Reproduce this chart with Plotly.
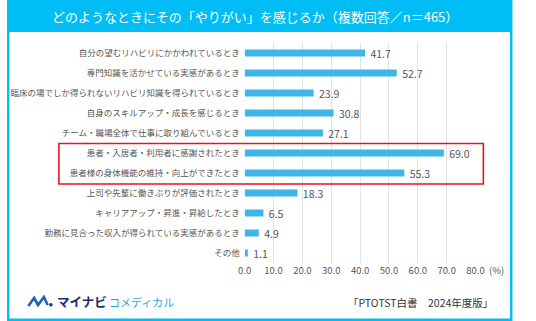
import plotly.graph_objects as go

W, H = 536, 321

categories = [
    "自分の望むリハビリにかかわれているとき",
    "専門知識を活かせている実感があるとき",
    "臨床の場でしか得られないリハビリ知識を得られているとき",
    "自身のスキルアップ・成長を感じるとき",
    "チーム・職場全体で仕事に取り組んでいるとき",
    "患者・入居者・利用者に感謝されたとき",
    "患者様の身体機能の維持・向上ができたとき",
    "上司や先輩に働きぶりが評価されたとき",
    "キャリアアップ・昇進・昇給したとき",
    "勤務に見合った収入が得られている実感があるとき",
    "その他",
]
values = [41.7, 52.7, 23.9, 30.8, 27.1, 69.0, 55.3, 18.3, 6.5, 4.9, 1.1]
tick_vals = [0, 10, 20, 30, 40, 50, 60, 70, 80]
tick_text = ["0.0", "10.0", "20.0", "30.0", "40.0", "50.0", "60.0", "70.0", "80.0"]
title_text = "どのようなときにその「やりがい」を感じるか（複数回答／n＝465）"
source_text = "「PTOTST白書　2024年度版」"

FONT = "Noto Sans CJK JP"
CYAN = "#00BDF6"
BAR = "#3FB5E8"
GRAY = "#555555"


def px(x):
    return x / W


def py(y):
    return 1 - y / H


fig = go.Figure()
fig.add_trace(go.Bar(
    x=values, y=categories, orientation="h",
    marker=dict(color=BAR, line=dict(width=0)),
    width=0.36,
    text=values, texttemplate=" %{x:.1f}", textposition="outside",
    constraintext="none",
    textfont=dict(family=FONT, size=10.5, color=GRAY),
    cliponaxis=False, hoverinfo="skip",
))

shapes = [
    # outer cyan frame
    dict(type="rect", xref="paper", yref="paper", x0=px(0), x1=px(521), y0=py(321), y1=py(0),
         fillcolor=CYAN, line=dict(width=0), layer="below"),
    # inner white panel
    dict(type="rect", xref="paper", yref="paper", x0=px(2.5), x1=px(518.5), y0=py(318.5), y1=py(32),
         fillcolor="white", line=dict(width=0), layer="below"),
    # red highlight box
    dict(type="rect", xref="paper", yref="paper", x0=px(53.5), x1=px(491), y0=py(184), y1=py(143.5),
         fillcolor="rgba(0,0,0,0)", line=dict(color="#E8141E", width=1.6), layer="above"),
    # logo mark
    dict(type="path", xref="paper", yref="paper",
         path=f"M {px(22)} {py(306)} L {px(28)} {py(298)} L {px(32)} {py(305)} L {px(38)} {py(297)} L {px(42)} {py(305)}",
         line=dict(color="#1F5FB8", width=2.6), layer="above"),
    dict(type="circle", xref="paper", yref="paper", x0=px(43.5), x1=px(47), y0=py(306.5), y1=py(303),
         fillcolor="#1B2F6E", line=dict(width=0), layer="above"),
]

annotations = [
    dict(text=title_text, x=px(256), y=py(16.5), xref="paper", yref="paper",
         xanchor="center", yanchor="middle", showarrow=False,
         font=dict(family=FONT, size=13, color="white")),
    dict(text="(%)", x=px(495), y=py(270), xref="paper", yref="paper",
         xanchor="left", yanchor="middle", showarrow=False,
         font=dict(family=FONT, size=9.5, color=GRAY)),
    dict(text="<b>マイナビ</b>", x=px(49), y=py(301.5), xref="paper", yref="paper",
         xanchor="left", yanchor="middle", showarrow=False,
         font=dict(family=FONT, size=12.5, color="#1B2F6E")),
    dict(text="コメディカル", x=px(103), y=py(302), xref="paper", yref="paper",
         xanchor="left", yanchor="middle", showarrow=False,
         font=dict(family=FONT, size=11, color="#1EA7E1")),
    dict(text=source_text, x=px(503), y=py(302.5), xref="paper", yref="paper",
         xanchor="right", yanchor="middle", showarrow=False,
         font=dict(family=FONT, size=10.5, color="#333333")),
]

fig.update_layout(
    width=W, height=H, margin=dict(l=0, r=0, t=0, b=0),
    paper_bgcolor="white", plot_bgcolor="rgba(0,0,0,0)",
    showlegend=False, shapes=shapes, annotations=annotations,
    font=dict(family=FONT, color=GRAY),
    bargap=0.64,
)
fig.update_xaxes(
    range=[0, 80], domain=[px(245), px(483)],
    tickvals=tick_vals, ticktext=tick_text,
    showgrid=True, gridcolor="#E3E3E3", gridwidth=1, zeroline=False,
    showline=False, ticks="", tickfont=dict(family=FONT, size=9.5, color=GRAY),
    fixedrange=True,
)
fig.update_yaxes(
    type="category", autorange="reversed", domain=[py(263), py(43)],
    showgrid=False, zeroline=False, showline=False, ticks="",
    tickfont=dict(family=FONT, size=8.5, color=GRAY),
    ticklabelstandoff=4, fixedrange=True,
)

fig.write_html("out.html")
